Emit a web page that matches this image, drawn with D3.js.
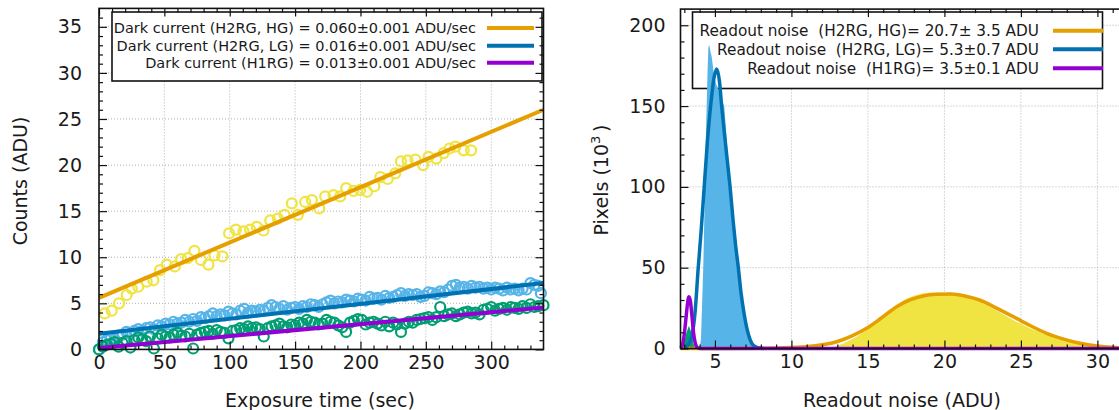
<!DOCTYPE html>
<html><head><meta charset="utf-8">
<script src="https://cdn.jsdelivr.net/npm/d3@7"></script>
<style>body{margin:0;background:#fff} svg{display:block} text{font-family:"DejaVu Sans",sans-serif;fill:#1a1a1a}</style>
</head><body><svg id="c" width="1119" height="410"></svg>
<script>
// ---------- LEFT PANEL DATA: dark current ----------
const darkHG = [[4.3,3.9],[9.7,4.2],[15.3,5.0],[21.2,5.9],[25,6.6],[30,6.8],[36.5,7.35],[41.6,7.5],[46.7,8.6],[51.8,9.2],[58,9.0],[62.8,9.8],[67.9,9.9],[73,10.7],[78,9.7],[83.7,9.2],[88.3,10.2],[94.4,10.1],[99.5,12.6],[104.7,13.0],[110.5,12.8],[115.6,13.0],[120.7,13.3],[125.8,12.9],[131,14.0],[136.8,14.2],[141.9,14.6],[147.5,15.85],[152.1,14.6],[157.7,16.0],[162.8,16.2],[168.5,15.3],[173,16.6],[179.4,16.75],[184.5,16.6],[189.1,17.5],[194.7,17.2],[199.8,17.3],[205,17.1],[210.6,17.7],[215.2,18.7],[220.8,18.5],[226.6,19.1],[231,20.4],[236.1,20.5],[242,20.6],[247.9,20.0],[252.1,20.9],[258,20.7],[263.6,21.3],[268.2,21.8],[272.6,22.0],[279,21.6],[284.6,21.6]];
const darkLG = [[0,0.0],[3,0.8],[6,1.0],[9,1.2],[12,1.1],[15,1.5],[18,1.6],[21,1.9],[24,1.7],[27,2.0],[30,2.2],[33,2.0],[36,2.3],[39,2.4],[42,2.2],[45,2.6],[48,2.5],[51,2.8],[54,2.7],[57,3.0],[60,2.8],[63,2.9],[66,3.2],[69,3.0],[72,3.3],[75,3.1],[78,3.5],[81,3.4],[84,3.6],[87,3.9],[90,3.6],[93,3.8],[96,3.7],[99,4.1],[102,3.9],[105,3.8],[108,4.2],[111,4.4],[114,4.0],[117,4.2],[120,4.1],[123,4.3],[126,4.2],[129,4.5],[132,4.8],[135,4.6],[138,4.4],[141,4.7],[144,4.3],[147,4.5],[150,4.6],[153,4.4],[156,4.7],[159,4.6],[162,4.9],[165,4.8],[168,4.6],[171,4.9],[174,5.1],[177,5.3],[180,5.0],[183,5.2],[186,5.1],[189,5.4],[192,5.3],[195,5.2],[198,5.5],[201,5.4],[204,5.3],[207,5.7],[210,5.5],[213,5.6],[216,5.4],[219,5.8],[222,5.6],[225,5.7],[228,5.9],[231,6.1],[234,5.8],[237,6.0],[240,5.9],[243,6.0],[246,5.7],[249,5.8],[252,6.2],[255,6.1],[258,6.0],[261,6.3],[264,6.2],[267,6.5],[270,6.9],[273,7.0],[276,6.7],[279,6.8],[282,6.6],[285,6.9],[288,6.7],[291,6.8],[294,6.6],[297,6.7],[300,6.5],[303,6.7],[306,6.6],[309,6.4],[312,6.7],[315,6.5],[318,6.6],[321,6.4],[324,6.6],[327,6.5],[330,7.2],[333,7.0],[336,6.9],[338,6.1]];
const darkH1 = [[0,0.0],[3,0.3],[6,0.5],[9,0.6],[12,0.8],[15,0.3],[18,0.7],[21,0.9],[24,0.2],[27,1.0],[30,1.3],[33,1.1],[36,0.9],[39,1.4],[42,0.1],[45,1.2],[48,1.6],[51,1.4],[54,1.3],[57,1.6],[60,1.8],[63,1.5],[66,1.4],[69,1.7],[72,0.1],[75,1.6],[78,1.8],[81,1.9],[84,2.0],[87,1.7],[90,2.1],[93,1.9],[96,1.8],[99,1.2],[102,2.0],[105,2.1],[108,2.3],[111,2.2],[114,2.5],[117,2.3],[120,2.4],[123,2.2],[126,1.4],[129,2.3],[132,2.5],[135,2.6],[138,2.8],[141,2.5],[144,2.4],[147,2.7],[150,2.6],[153,2.9],[156,2.8],[159,3.2],[162,3.0],[165,2.9],[168,2.7],[171,2.8],[174,3.2],[177,3.0],[180,2.9],[183,2.6],[186,2.4],[189,1.9],[192,2.9],[195,3.1],[198,3.3],[201,3.2],[204,2.7],[207,2.9],[210,3.0],[213,2.8],[216,2.6],[219,3.0],[222,2.5],[225,2.9],[228,2.7],[231,1.9],[234,2.8],[237,3.0],[240,2.9],[243,3.2],[246,3.3],[249,3.4],[252,3.5],[255,3.2],[258,3.5],[261,4.6],[264,3.6],[267,3.8],[270,3.9],[273,3.6],[276,3.8],[279,4.0],[282,4.1],[285,3.9],[288,4.0],[291,3.8],[294,4.3],[297,4.4],[300,4.6],[303,4.2],[306,4.4],[309,4.5],[312,4.3],[315,4.6],[318,4.5],[321,4.4],[324,4.7],[327,4.5],[330,4.9],[333,4.6],[336,4.7],[340,4.8]];
const fitHG = [[0,5.6],[340,26.0]];
const fitLG = [[0,1.7],[340,7.2]];
const fitH1 = [[0,0.15],[340,4.55]];
const darkLabels = ["Dark current (H2RG, HG) = 0.060\u00b10.001 ADU/sec","Dark current (H2RG, LG) = 0.016\u00b10.001 ADU/sec","Dark current (H1RG) = 0.013\u00b10.001 ADU/sec"];
const leftXTicks = [0,50,100,150,200,250,300];
const leftYTicks = [0,5,10,15,20,25,30,35];

// ---------- RIGHT PANEL DATA: readout noise ----------
const histHG = [[12.0,0],[12.85,1.1],[13.5,3.5],[14.2,7],[14.92,11.4],[15.7,17.5],[16.44,23.8],[17.0,27.8],[17.53,31],[18.1,33],[18.62,34.2],[19.2,34.6],[19.71,34.5],[20.3,34.2],[20.8,33.7],[21.5,32],[22.32,29],[23.4,23.5],[24.5,17.6],[25.6,12.5],[26.68,8.4],[27.8,5],[28.86,2.8],[29.8,1.6],[30.6,1.1],[31.5,0.5],[32,0.3]];
const histLG = [[4.0,0],[4.09,6],[4.17,30],[4.24,51],[4.3,78],[4.35,100],[4.4,128],[4.46,150],[4.52,172],[4.57,186],[4.63,188],[4.7,184],[4.78,181],[4.85,176],[4.95,168],[5.1,163],[5.25,160],[5.4,155],[5.61,150],[5.8,125],[6.05,100],[6.3,75],[6.59,50],[6.8,30],[7.0,16],[7.2,7],[7.4,2.5],[7.6,0.5],[7.8,0]];
const histH1 = [[2.85,0],[3.0,4],[3.15,10],[3.3,14],[3.45,10],[3.6,3],[3.7,0]];
const curveHG = [[2.75,0],[8,0.1],[10,0.6],[11.43,1.5],[12.96,4.2],[14,8],[14.92,12.5],[15.9,19],[16.88,25.9],[17.8,30.2],[18.62,32.5],[19.5,33.5],[20.47,33.7],[21.4,32.3],[22.3,30],[23.4,25],[24.5,19.7],[25.6,14.2],[26.68,9.4],[27.8,5.8],[28.86,3.2],[30,1.5],[31,0.7],[32,0.3]];
const curveLG = [[3.0,0.5],[3.3,3],[3.5,8],[3.7,22],[3.91,50],[4.1,73],[4.3,100],[4.5,127],[4.74,152],[4.95,168],[5.12,173],[5.3,165],[5.44,150],[5.6,135],[5.8,117],[5.99,100],[6.2,78],[6.35,64],[6.53,50],[6.7,35],[6.9,22],[7.1,12],[7.3,5.5],[7.5,2],[7.8,0.5],[8.2,0]];
const curveH1 = [[2.75,0.3],[2.9,3],[3.0,9],[3.1,18],[3.2,27],[3.3,32],[3.4,29],[3.5,20],[3.6,10],[3.7,4],[3.8,1.2],[3.95,0.2],[4.2,0],[32,0]];
const noiseLabels = ["Readout noise  (H2RG, HG)= 20.7\u00b1 3.5 ADU","Readout noise  (H2RG, LG)= 5.3\u00b10.7 ADU","Readout noise  (H1RG)= 3.5\u00b10.1 ADU"];
const rightXTicks = [5,10,15,20,25,30];
const rightYTicks = [0,50,100,150,200];

const C = {yellow:"#f0e442", orange:"#e69f00", lblue:"#56b4e9", blue:"#0072b2", green:"#009e73", purple:"#9400d3"};
const FS = 19;
const svg = d3.select("#c");
svg.append("rect").attr("width",1119).attr("height",410).attr("fill","#fff");

function grid(x, y, xt, yt) {
  const g = svg.append("g");
  const [x0,x1] = x.range(), [y0,y1] = y.range();
  g.selectAll(".gx").data(xt).join("line").attr("x1",d=>x(d)).attr("x2",d=>x(d)).attr("y1",y0).attr("y2",y1);
  g.selectAll(".gy").data(yt).join("line").attr("x1",x0).attr("x2",x1).attr("y1",d=>y(d)).attr("y2",d=>y(d));
  g.selectAll("line").attr("stroke","#b0b0b0").attr("stroke-width",1).attr("stroke-dasharray","1,2");
}
function frame(x, y, xt, xm, yt, ym, padX, padY) {
  const [x0,x1] = x.range(), [y0,y1] = y.range();
  const H = y0 - y1, W = x1 - x0;
  const ax = (gen, tr) => svg.append("g").attr("transform", tr).call(gen).call(g=>g.select(".domain").remove());
  ax(d3.axisBottom(x).tickValues(xm).tickSize(-4).tickFormat(""), `translate(0,${y0})`);
  ax(d3.axisTop(x).tickValues(xm).tickSize(-4).tickFormat(""), `translate(0,${y1})`);
  ax(d3.axisLeft(y).tickValues(ym).tickSize(-4).tickFormat(""), `translate(${x0},0)`);
  ax(d3.axisRight(y).tickValues(ym).tickSize(-4).tickFormat(""), `translate(${x1},0)`);
  const b = ax(d3.axisBottom(x).tickValues(xt).tickSizeInner(-8).tickSizeOuter(0).tickPadding(padX), `translate(0,${y0})`);
  ax(d3.axisTop(x).tickValues(xt).tickSize(-8).tickFormat(""), `translate(0,${y1})`);
  const l = ax(d3.axisLeft(y).tickValues(yt).tickSizeInner(-8).tickSizeOuter(0).tickPadding(padY), `translate(${x0},0)`);
  ax(d3.axisRight(y).tickValues(yt).tickSize(-8).tickFormat(""), `translate(${x1},0)`);
  [b,l].forEach(g=>g.selectAll("text").attr("font-size",FS).attr("font-family","DejaVu Sans").attr("fill","#1a1a1a"));
  svg.selectAll(".tick line").attr("stroke","#111").attr("stroke-width",1.2);
  svg.append("rect").attr("x",x0).attr("y",y1).attr("width",W).attr("height",H)
    .attr("fill","none").attr("stroke","#111").attr("stroke-width",1.6);
}
function legend(textX, sx0, sx1, rows, labels, colors, fs) {
  const g = svg.append("g");
  labels.forEach((t,i)=>{
    g.append("text").attr("x",textX).attr("y",rows[i]).attr("dy","0.36em").attr("text-anchor","end")
      .attr("font-size",fs).style("white-space","pre").attr("fill","#2a2a2a").text(t);
    g.append("line").attr("x1",sx0).attr("x2",sx1).attr("y1",rows[i]).attr("y2",rows[i])
      .attr("stroke",colors[i]).attr("stroke-width",4);
  });
}
function legendBox(b){
  svg.append("rect").attr("x",b[0]).attr("y",b[1]).attr("width",b[2]).attr("height",b[3])
    .attr("fill","#fff").attr("stroke","#111").attr("stroke-width",1.6);
}

// ================= LEFT PANEL =================
const xL = d3.scaleLinear().domain([0,340]).range([99,543.5]);
const yL = d3.scaleLinear().domain([0,37]).range([349.4,8.4]);
grid(xL, yL, leftXTicks.slice(1), leftYTicks.slice(1));
legendBox([112,12,430,69]);
const lineL = d3.line().x(d=>xL(d[0])).y(d=>yL(d[1]));
[[darkHG,C.yellow],[darkLG,C.lblue],[darkH1,C.green]].forEach(([arr,col])=>{
  svg.append("g").selectAll("circle").data(arr).join("circle")
    .attr("cx",d=>xL(d[0])).attr("cy",d=>yL(d[1])).attr("r",5)
    .attr("fill","none").attr("stroke",col).attr("stroke-width",2.2);
});
[[fitHG,C.orange],[fitLG,C.blue],[fitH1,C.purple]].forEach(([arr,col])=>{
  svg.append("path").datum(arr).attr("d",lineL).attr("fill","none").attr("stroke",col).attr("stroke-width",4);
});
legend(476, 487, 534, [28,45.7,62.7], darkLabels, [C.orange,C.blue,C.purple], 14.5);
frame(xL, yL, leftXTicks, d3.range(10,340,10).filter(v=>v%50), leftYTicks, d3.range(1,37,1).filter(v=>v%5), 6, 17);
svg.append("text").attr("transform","translate(20,181) rotate(-90)").attr("text-anchor","middle").attr("dy","0.35em")
  .attr("font-size",FS).text("Counts (ADU)");
svg.append("text").attr("x",320).attr("y",400).attr("text-anchor","middle").attr("dy","0.35em")
  .attr("font-size",FS).text("Exposure time (sec)");

// ================= RIGHT PANEL =================
const xR = d3.scaleLinear().domain([2.75,32]).range([680.5,1128]);
const yR = d3.scaleLinear().domain([0,210]).range([348.5,9.1]);
grid(xR, yR, rightXTicks, rightYTicks.slice(1));
legendBox([692.5,12,410,76.5]);
const areaR = d3.area().x(d=>xR(d[0])).y0(yR(0)).y1(d=>yR(d[1]));
const lineR = d3.line().x(d=>xR(d[0])).y(d=>yR(d[1])).curve(d3.curveMonotoneX);
[[histHG,C.yellow],[histLG,C.lblue],[histH1,C.green]].forEach(([arr,col])=>{
  svg.append("path").datum(arr).attr("d",areaR).attr("fill",col).attr("stroke","none");
});
[[curveHG,C.orange],[curveLG,C.blue],[curveH1,C.purple]].forEach(([arr,col])=>{
  svg.append("path").datum(arr).attr("d",lineR).attr("fill","none").attr("stroke",col).attr("stroke-width",3.5);
});
legend(1039, 1053, 1103, [30.7,49.3,68.3], noiseLabels, [C.orange,C.blue,C.purple], 15.3);
frame(xR, yR, rightXTicks, d3.range(3,32,1).filter(v=>v%5), rightYTicks, d3.range(10,210,10).filter(v=>v%50), 6, 15);
const pl = svg.append("text").attr("transform","translate(601,180) rotate(-90)").attr("text-anchor","middle")
  .attr("font-size",FS);
pl.append("tspan").attr("dy",7).text("Pixels (10");
pl.append("tspan").attr("font-size",13).attr("dy",-8).text("3");
pl.append("tspan").attr("dy",8).text("\u2009)");
svg.append("text").attr("x",902).attr("y",400).attr("text-anchor","middle").attr("dy","0.35em")
  .attr("font-size",FS).text("Readout noise (ADU)");
</script></body></html>
